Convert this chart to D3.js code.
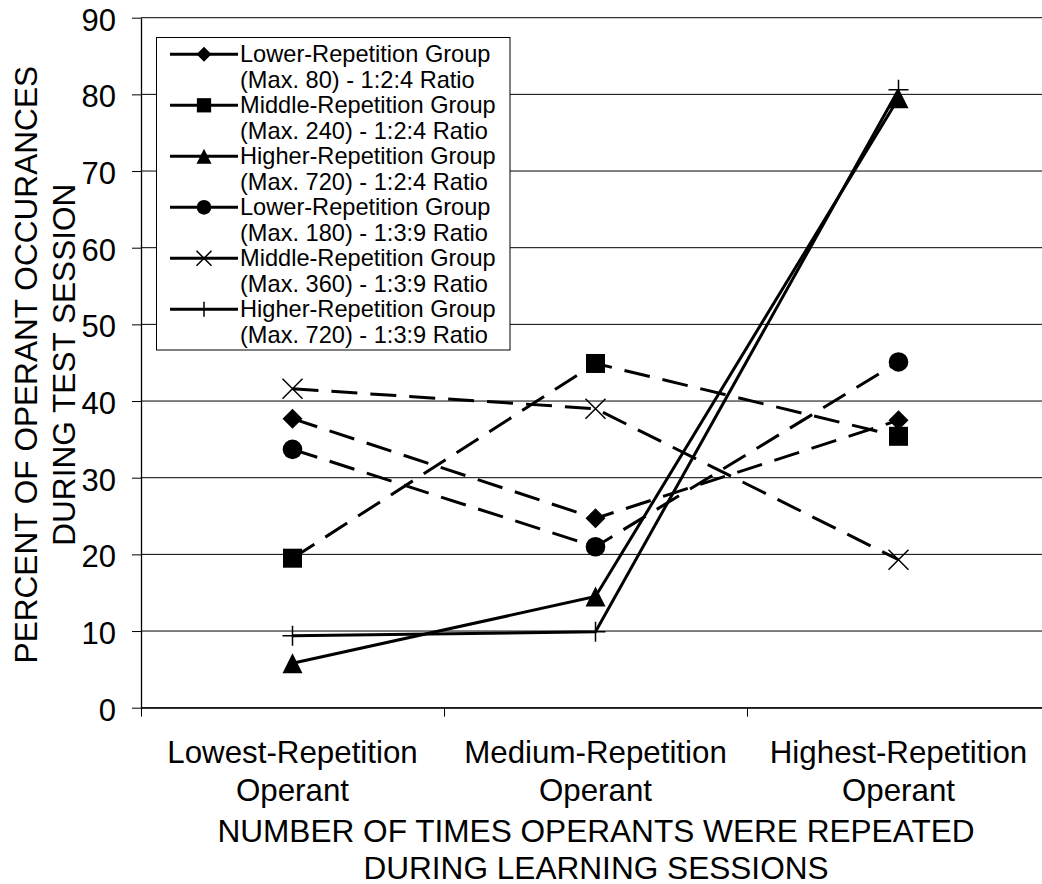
<!DOCTYPE html>
<html>
<head>
<meta charset="utf-8">
<script src="https://cdn.jsdelivr.net/npm/d3@7/dist/d3.min.js"></script>
<style>
  html, body { margin: 0; padding: 0; background: #fff; }
  svg { display: block; font-family: "Liberation Sans", Arial, sans-serif; }
</style>
</head>
<body>
<svg id="chart" width="1042" height="884"></svg>
<script>
// ---------- DATA ----------
const categories = [
  ["Lowest-Repetition", "Operant"],
  ["Medium-Repetition", "Operant"],
  ["Highest-Repetition", "Operant"]
];
const yTicks = [0, 10, 20, 30, 40, 50, 60, 70, 80, 90];
const seriesNames = [
  ["Lower-Repetition Group", "(Max. 80) - 1:2:4 Ratio"],
  ["Middle-Repetition Group", "(Max. 240) - 1:2:4 Ratio"],
  ["Higher-Repetition Group", "(Max. 720) - 1:2:4 Ratio"],
  ["Lower-Repetition Group", "(Max. 180) - 1:3:9 Ratio"],
  ["Middle-Repetition Group", "(Max. 360) - 1:3:9 Ratio"],
  ["Higher-Repetition Group", "(Max. 720) - 1:3:9 Ratio"]
];
const lowerRep124  = [37.7, 24.7, 37.5];
const middleRep124 = [19.5, 44.9, 35.4];
const higherRep124 = [5.8, 14.5, 79.5];
const lowerRep139  = [33.7, 21.0, 45.1];
const middleRep139 = [41.6, 39.0, 19.3];
const higherRep139 = [9.4, 9.9, 80.6];
const seriesValues = [lowerRep124, middleRep124, higherRep124, lowerRep139, middleRep139, higherRep139];
const markerTypes = ["diamond", "square", "triangle", "circle", "x", "plus"];
const dashed = [true, true, false, true, true, false];
const yTitle = ["PERCENT OF OPERANT OCCURANCES", "DURING TEST SESSION"];
const xTitle = ["NUMBER OF TIMES OPERANTS WERE REPEATED", "DURING LEARNING SESSIONS"];

// ---------- LAYOUT ----------
(function () {
const svg = d3.select("#chart");
const pL = 141, pR = 1050, pT = 17.7, pB = 707.7;
const x = d3.scaleBand().domain(d3.range(categories.length)).range([pL, pR]).padding(0);
const xEdge = d3.scaleLinear().domain([0, categories.length]).range([pL, pR]);
const y = d3.scaleLinear().domain([0, 90]).range([pB, pT]);
const big = 31;
const title = 31.6;

// gridlines
svg.append("g").selectAll("line").data(yTicks).join("line")
  .attr("x1", pL).attr("x2", pR)
  .attr("y1", d => y(d)).attr("y2", d => y(d))
  .attr("stroke", "#000").attr("stroke-width", 1);

// y axis
const yAxis = svg.append("g").attr("transform", `translate(${pL},0)`)
  .call(d3.axisLeft(y).tickValues(yTicks).tickSize(9).tickSizeOuter(0).tickPadding(16));
yAxis.select(".domain").attr("stroke", "#000").attr("stroke-width", 1.3);
yAxis.selectAll(".tick line").attr("stroke", "#000");
yAxis.selectAll(".tick text").attr("font-size", big).attr("dy", "0.4em")
  .attr("font-family", "'Liberation Sans', Arial, sans-serif").attr("fill", "#000");

// x axis (ticks at category boundaries)
const xAxis = svg.append("g").attr("transform", `translate(0,${pB})`)
  .call(d3.axisBottom(xEdge).tickValues(d3.range(categories.length + 1)).tickSize(9).tickSizeOuter(0).tickFormat(""));
xAxis.select(".domain").attr("stroke", "#000").attr("stroke-width", 1.3);
xAxis.selectAll(".tick line").attr("stroke", "#000");

// category labels
const catG = svg.append("g");
categories.forEach((lines, i) => {
  const cx = x(i) + x.bandwidth() / 2;
  const t = catG.append("text")
    .attr("x", cx).attr("y", 762.5)
    .attr("text-anchor", "middle").attr("font-size", 31.3).attr("fill", "#000");
  lines.forEach((l, j) => t.append("tspan").attr("x", cx).attr("dy", j === 0 ? 0 : 38.5).text(l));
});

// x axis title
const xc = (pL + pR) / 2 + 0.5;
const xt = svg.append("text").attr("text-anchor", "middle").attr("font-size", title).attr("fill", "#000")
  .attr("x", xc).attr("y", 841.5);
xTitle.forEach((l, j) => xt.append("tspan").attr("x", xc).attr("dy", j === 0 ? 0 : 37).text(l));

// y axis title
const ytG = svg.append("g").attr("transform", `translate(36.5,${(pT + pB) / 2 + 2}) rotate(-90)`);
const yt = ytG.append("text").attr("text-anchor", "middle").attr("font-size", title).attr("fill", "#000");
yTitle.forEach((l, j) => yt.append("tspan").attr("x", 0).attr("dy", j === 0 ? 0 : 38.5).text(l));

// ---------- MARKERS ----------
function drawMarker(g, type, cx, cy, s) {
  if (type === "diamond") {
    g.append("path").attr("d", `M${cx},${cy - s}L${cx + s},${cy}L${cx},${cy + s}L${cx - s},${cy}Z`).attr("fill", "#000");
  } else if (type === "square") {
    const h = s * 0.95;
    g.append("rect").attr("x", cx - h).attr("y", cy - h).attr("width", 2 * h).attr("height", 2 * h).attr("fill", "#000");
  } else if (type === "triangle") {
    g.append("path").attr("d", `M${cx},${cy - s}L${cx + s},${cy + s}L${cx - s},${cy + s}Z`).attr("fill", "#000");
  } else if (type === "circle") {
    g.append("circle").attr("cx", cx).attr("cy", cy).attr("r", s * 0.98).attr("fill", "#000");
  } else if (type === "x") {
    g.append("path").attr("d", `M${cx - s},${cy - s}L${cx + s},${cy + s}M${cx - s},${cy + s}L${cx + s},${cy - s}`)
      .attr("stroke", "#000").attr("stroke-width", 1.5).attr("fill", "none");
  } else if (type === "plus") {
    g.append("path").attr("d", `M${cx - s},${cy}L${cx + s},${cy}M${cx},${cy - s}L${cx},${cy + s}`)
      .attr("stroke", "#000").attr("stroke-width", 1.5).attr("fill", "none");
  }
}

// ---------- SERIES ----------
const line = d3.line().x((d, i) => x(i) + x.bandwidth() / 2).y(d => y(d));
const seriesG = svg.append("g");
seriesValues.forEach((vals, k) => {
  const g = seriesG.append("g");
  g.append("path").datum(vals).attr("d", line)
    .attr("fill", "none").attr("stroke", "#000").attr("stroke-width", 3)
    .attr("stroke-dasharray", dashed[k] ? "26,13" : null);
  vals.forEach((v, i) => drawMarker(g, markerTypes[k], x(i) + x.bandwidth() / 2, y(v), 10));
});

// ---------- LEGEND ----------
const lg = svg.append("g");
lg.append("rect").attr("x", 156.5).attr("y", 37.5).attr("width", 353.5).attr("height", 312.5)
  .attr("fill", "#fff").attr("stroke", "#000").attr("stroke-width", 1);
seriesNames.forEach((lines, k) => {
  const base = 62.3 + k * 51;
  const cy = base - 8;
  lg.append("line").attr("x1", 170).attr("x2", 238).attr("y1", cy).attr("y2", cy)
    .attr("stroke", "#000").attr("stroke-width", 3);
  drawMarker(lg, markerTypes[k], 204, cy, 7.5);
  const t = lg.append("text").attr("x", 240).attr("y", base).attr("font-size", 23.6).attr("fill", "#000");
  lines.forEach((l, j) => t.append("tspan").attr("x", 240).attr("dy", j === 0 ? 0 : 25.5).text(l));
});
})();
</script>
</body>
</html>
